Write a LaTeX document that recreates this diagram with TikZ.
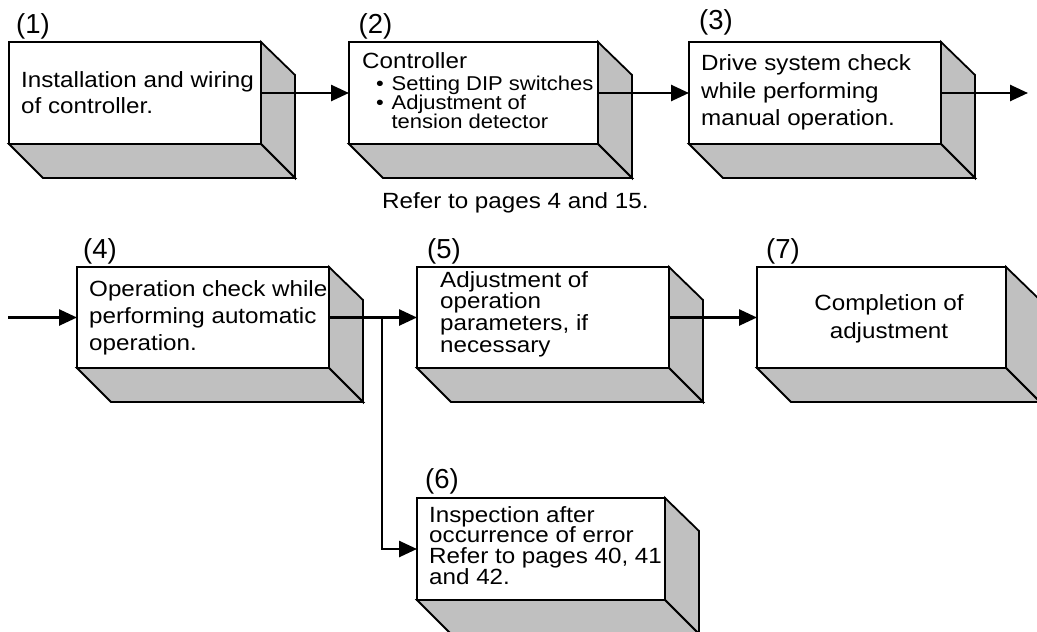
\documentclass[tikz,border=0pt]{standalone}
\usepackage{fontspec}
\setmainfont{Liberation Sans}
\usepackage{graphicx}
\usetikzlibrary{arrows.meta}
\definecolor{shade}{RGB}{192,192,192}
\newcommand\linesL[2]{\vtop{\baselineskip=#1\lineskiplimit=-100pt\relax\halign{##\hfil\cr#2\crcr}}}
\newcommand\linesC[2]{\vtop{\baselineskip=#1\lineskiplimit=-100pt\relax\halign{\hfil##\hfil\cr#2\crcr}}}
\newcommand\bullist[2]{\vtop{\baselineskip=#1\lineskiplimit=-100pt\relax\halign{##\hfil&\hskip7pt##\hfil\cr#2\crcr}}}
\newcommand\wx[1]{\scalebox{1.1}[1]{#1}}
\newcommand\solid[1]{%
  \filldraw[side] (#1.north east) -- ++(34,33) -- ([shift={(34,34)}]#1.south east) -- (#1.south east) -- cycle;
  \filldraw[side] (#1.south west) -- ([shift={(34,34)}]#1.south west) -- ([shift={(34,34)}]#1.south east) -- (#1.south east) -- cycle;}
\begin{document}
\begin{tikzpicture}[x=1pt,y=-1pt,
  face/.style={draw=black, line width=1.8pt, fill=white, rectangle, minimum width=252pt,
    minimum height=102pt, inner sep=0pt, outer sep=0pt, anchor=north west},
  side/.style={fill=shade, draw=black, line width=1.8pt, line join=miter},
  txt/.style={inner sep=0pt, anchor=base west, font=\fontsize{22}{26}\selectfont},
  lbl/.style={inner sep=0pt, anchor=base west, font=\fontsize{27.5}{30}\selectfont},
  small/.style={inner sep=0pt, anchor=base west, font=\fontsize{20}{19}\selectfont},
  flow/.style={line width=2.6pt, -{Triangle[length=18pt,width=16pt]}},
]
\useasboundingbox (0,0) rectangle (1037,632);

% front faces
\node[face] (b1) at (9,42) {};
\node[face, minimum width=249pt] (b2) at (349,42) {};
\node[face] (b3) at (689,42) {};
\node[face, minimum height=101pt] (b4) at (77,267) {};
\node[face, minimum height=101pt] (b5) at (417,267) {};
\node[face, minimum width=249pt, minimum height=101pt] (b7) at (757,267) {};
\node[face, minimum width=248pt] (b6) at (417,498) {};

% depth faces
\solid{b1}\solid{b2}\solid{b3}\solid{b4}\solid{b5}\solid{b7}\solid{b6}

% labels
\node[lbl] (l1) at (16,33) {(1)};
\node[lbl] (l2) at (358.5,33) {(2)};
\node[lbl] (l3) at (699,29) {(3)};
\node[lbl] (l4) at (83,258) {(4)};
\node[lbl] (l5) at (427,258) {(5)};
\node[lbl] (l7) at (766,258) {(7)};
\node[lbl] (l6) at (425,488) {(6)};

% texts
\node[txt] (t1) at (21,87) {\wx{\linesL{26pt}{Installation and wiring\cr of controller.}}};
\node[txt] (t2) at (362,68) {\wx{Controller}};
\node[small] (t2b) at (376,90) {\wx{\bullist{19pt}{•&Setting DIP switches\cr •&Adjustment of\cr &tension detector}}};
\node[txt] (t3) at (701,70.5) {\wx{\linesL{27.5pt}{Drive system check\cr while performing\cr manual operation.}}};
\node[txt] (ref) at (382,208) {\wx{Refer to pages 4 and 15.}};
\node[txt] (t4) at (89,296) {\wx{\linesL{27pt}{Operation check while\cr performing automatic\cr operation.}}};
\node[txt] (t5) at (440,287) {\wx{\linesL{21.7pt}{Adjustment of\cr operation\cr parameters, if\cr necessary}}};
\node[txt, anchor=base] (t7) at (889,310) {\wx{\linesC{28pt}{Completion of\cr adjustment}}};
\node[txt] (t6) at (429,522) {\wx{\linesL{20.7pt}{Inspection after\cr occurrence of error\cr Refer to pages 40, 41\cr and 42.}}};

% connectors
\coordinate (out) at (1028,93);
\coordinate (in) at (8,317.5);
\coordinate (br) at (382,317.5);
\draw[flow] (b1.east) -- (b2.west);
\draw[flow] (b2.east) -- (b3.west);
\draw[flow] (b3.east) -- (out);
\draw[flow] (in) -- (b4.west);
\draw[flow] (b4.east) -- (b5.west);
\draw[flow] (b5.east) -- (b7.west);
\draw[flow] (br) |- (b6.west);
\end{tikzpicture}
\end{document}
